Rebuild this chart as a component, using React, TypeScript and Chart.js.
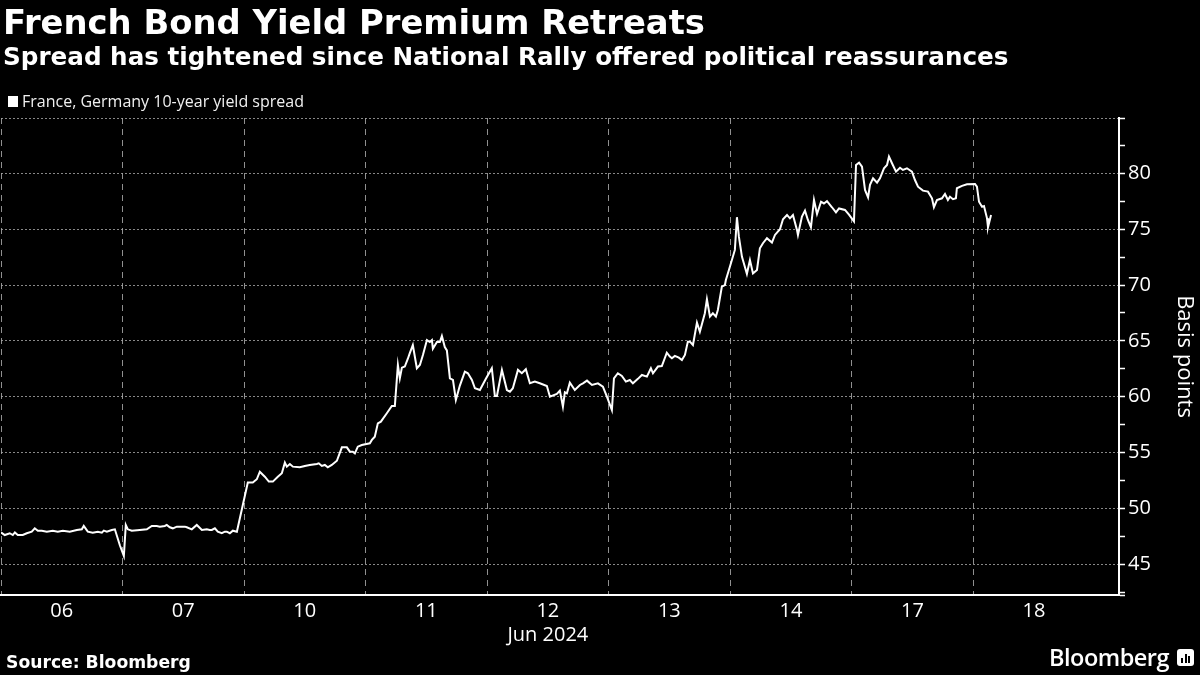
import React, { useEffect, useRef } from "react";
import { Chart, registerables } from "chart.js";

Chart.register(...registerables);

// ---------- data ----------
const chartTitle = "French Bond Yield Premium Retreats";
const chartSubtitle = "Spread has tightened since National Rally offered political reassurances";
const seriesName = "France, Germany 10-year yield spread";
const yAxisTitle = "Basis points";
const sourceText = "Source: Bloomberg";
const monthLabel = "Jun 2024";
const dayLabels = ["06", "07", "10", "11", "12", "13", "14", "17", "18"];
const monthLabelDay = "12";
const yMajorStep = 5;
const yMinorStep = 2.5;
const yMin = 42.25;
const yMax = 84.95;
const xMax = 9.2;

// trading-session time (in trading days from the open of 06 Jun)
const sessionTime = [
  0.0, 0.031, 0.072, 0.097, 0.114, 0.138, 0.179, 0.212, 0.253, 0.278, 0.303, 0.336, 0.377, 0.426, 0.467, 0.509,
  0.566, 0.624, 0.665, 0.681, 0.714, 0.755, 0.797, 0.83, 0.846, 0.871, 0.912, 0.937, 0.978,
  1.011, 1.027, 1.044, 1.076, 1.142, 1.2, 1.241, 1.282, 1.307, 1.348, 1.364, 1.389, 1.414, 1.447, 1.472, 1.513,
  1.529, 1.57, 1.611, 1.653, 1.694, 1.718, 1.735, 1.76, 1.784, 1.817, 1.842, 1.858, 1.883, 1.908, 1.941,
  2.031, 2.072, 2.105, 2.13, 2.171, 2.204, 2.237, 2.278, 2.311, 2.336, 2.352, 2.377, 2.402, 2.459, 2.5, 2.541,
  2.599, 2.615, 2.64, 2.665, 2.689, 2.722, 2.764, 2.805, 2.846, 2.871, 2.895, 2.912, 2.936, 2.969,
  3.035, 3.052, 3.076, 3.101, 3.126, 3.175, 3.216, 3.241, 3.266, 3.282, 3.299, 3.323, 3.348, 3.364, 3.389, 3.422,
  3.447, 3.472, 3.505, 3.529, 3.546, 3.554, 3.587, 3.611, 3.628, 3.652, 3.669, 3.694, 3.719, 3.743, 3.776, 3.817,
  3.842, 3.875, 3.9, 3.941, 3.99,
  4.039, 4.064, 4.081, 4.122, 4.163, 4.188, 4.212, 4.254, 4.286, 4.319, 4.352, 4.393, 4.434, 4.492, 4.517, 4.574,
  4.599, 4.624, 4.64, 4.657, 4.681, 4.722, 4.764, 4.789, 4.822, 4.863, 4.912, 4.953, 4.986,
  5.027, 5.044, 5.076, 5.109, 5.142, 5.175, 5.2, 5.241, 5.274, 5.315, 5.348, 5.365, 5.406, 5.438, 5.479, 5.504,
  5.521, 5.545, 5.578, 5.603, 5.628, 5.652, 5.669, 5.694, 5.727, 5.751, 5.792, 5.809, 5.834, 5.858, 5.883, 5.899,
  5.932, 5.957, 5.965, 5.998,
  6.039, 6.056, 6.072, 6.097, 6.105, 6.138, 6.163, 6.188, 6.221, 6.245, 6.27, 6.303, 6.344, 6.369, 6.41, 6.435,
  6.468, 6.492, 6.517, 6.55, 6.558, 6.591, 6.616, 6.64, 6.665, 6.69, 6.715, 6.748, 6.772, 6.797, 6.838, 6.871,
  6.896, 6.945, 6.978,
  7.019, 7.036, 7.061, 7.085, 7.11, 7.135, 7.151, 7.176, 7.209, 7.233, 7.266, 7.291, 7.307, 7.332, 7.365, 7.398,
  7.422, 7.455, 7.496, 7.521, 7.546, 7.587, 7.628, 7.661, 7.677, 7.702, 7.743, 7.768, 7.792, 7.809, 7.834, 7.858,
  7.866, 7.908, 7.949,
  8.015, 8.031, 8.048, 8.073, 8.089, 8.114, 8.122, 8.147,
];

const spreadBp = [
  47.85, 47.62, 47.78, 47.62, 47.85, 47.62, 47.62, 47.78, 47.92, 48.22, 48.0, 48.0, 47.92, 48.0, 47.92, 48.0,
  47.92, 48.07, 48.13, 48.43, 47.92, 47.83, 47.92, 47.83, 48.01, 47.92, 48.07, 48.13, 46.7,
  45.74, 48.52, 48.13, 48.0, 48.07, 48.13, 48.43, 48.43, 48.37, 48.43, 48.52, 48.31, 48.22, 48.37, 48.37, 48.37,
  48.31, 48.13, 48.52, 48.07, 48.13, 48.07, 48.07, 48.22, 47.92, 47.78, 47.92, 47.92, 47.78, 48.01, 47.92,
  52.31, 52.31, 52.61, 53.29, 52.84, 52.4, 52.4, 52.84, 53.15, 54.1, 53.74, 53.98, 53.74, 53.68, 53.8, 53.89,
  53.98, 54.04, 53.8, 53.89, 53.68, 53.89, 54.27, 55.47, 55.47, 55.08, 55.08, 54.93, 55.53, 55.68,
  55.83, 56.13, 56.42, 57.62, 57.77, 58.52, 59.17, 59.17, 62.84, 61.65, 62.6, 62.7, 63.4, 63.9, 64.63, 62.55,
  62.84, 63.73, 65.07, 64.9, 65.07, 64.3, 64.9, 64.9, 65.44, 64.45, 64.15, 61.65, 61.5, 59.71, 61.0, 62.24,
  62.1, 61.5, 60.76, 60.6, 61.6,
  62.55, 60.07, 60.07, 62.4, 60.6, 60.45, 60.76, 62.4, 62.1, 62.46, 61.2, 61.35, 61.2, 60.96, 60.0, 60.25,
  60.54, 59.11, 60.4, 60.3, 61.26, 60.6, 61.05, 61.2, 61.44, 61.05, 61.2, 60.9, 60.0,
  58.81, 61.65, 62.1, 61.86, 61.35, 61.5, 61.2, 61.6, 61.95, 61.8, 62.55, 62.1, 62.7, 62.75, 63.94, 63.6,
  63.44, 63.65, 63.5, 63.29, 63.74, 64.93, 64.93, 64.63, 66.63, 65.82, 67.47, 68.72, 67.17, 67.47, 67.17, 67.77,
  69.85, 70.0, 70.45, 71.64,
  73.14, 76.07, 74.33, 72.54, 72.24, 71.0, 72.24, 71.04, 71.35, 73.29, 73.74, 74.19, 73.8, 74.48, 74.99, 75.89,
  76.27, 75.97, 76.27, 74.93, 74.48, 76.12, 76.66, 75.82, 75.17, 77.61, 76.36, 77.46, 77.3, 77.5, 76.96, 76.5,
  76.85, 76.72, 76.3,
  75.7, 80.75, 80.95, 80.6, 78.51, 77.85, 78.96, 79.55, 79.16, 79.55, 80.45, 80.75, 81.49, 80.9, 80.15, 80.5,
  80.3, 80.45, 80.15, 79.4, 78.8, 78.45, 78.36, 77.76, 76.96, 77.61, 77.76, 78.15, 77.61, 77.9, 77.68, 77.76,
  78.66, 78.87, 79.02,
  79.05, 78.8, 77.45, 77.0, 77.07, 75.97, 75.17, 76.27,
];

// ---------- component ----------
const AXIS_FONT = "'Open Sans', 'Noto Sans', sans-serif";
const BOLD_FONT = "'DejaVu Sans', 'Noto Sans', sans-serif";

function ChartCanvas() {
  const ref = useRef<HTMLCanvasElement | null>(null);
  useEffect(() => {
    if (!ref.current) return;
    const points = sessionTime.map((t, i) => ({ x: t, y: spreadBp[i] }));
    const xTickValues: number[] = [];
    for (let i = 0; i <= dayLabels.length; i++) {
      xTickValues.push(i);
      if (i < dayLabels.length) xTickValues.push(i + 0.5);
    }
    const yTickValues: number[] = [yMin];
    for (let v = Math.ceil(yMin / yMinorStep) * yMinorStep; v < yMax - 0.01; v += yMinorStep) yTickValues.push(v);
    yTickValues.push(yMax);

    const isMajor = (v: number) => Math.abs(v / yMajorStep - Math.round(v / yMajorStep)) < 1e-6;

    const chart = new Chart(ref.current, {
      type: "line",
      data: {
        datasets: [
          {
            label: seriesName,
            data: points,
            borderColor: "#ffffff",
            borderWidth: 2,
            pointRadius: 0,
            tension: 0,
            fill: false,
          },
        ],
      },
      options: {
        animation: false,
        responsive: false,
        maintainAspectRatio: false,
        layout: { padding: { top: 118, left: 1, right: 0, bottom: 0 } },
        plugins: { legend: { display: false }, tooltip: { enabled: false }, title: { display: false } },
        scales: {
          x: {
            type: "linear",
            min: 0,
            max: xMax,
            afterBuildTicks: (scale: any) => {
              scale.ticks = xTickValues.map((v) => ({ value: v }));
            },
            afterFit: (scale: any) => {
              scale.height = 80;
              scale.paddingLeft = 0;
              scale.paddingRight = 0;
            },
            ticks: {
              autoSkip: false,
              maxRotation: 0,
              minRotation: 0,
              padding: 4,
              color: "#ffffff",
              font: { family: AXIS_FONT, size: 20 },
              callback: (value: any) => {
                const v = Number(value);
                if (Math.abs(v - Math.floor(v) - 0.5) > 1e-6) return "";
                const label = dayLabels[Math.floor(v)];
                return label === monthLabelDay ? [label, monthLabel] : label;
              },
            },
            grid: {
              drawTicks: false,
              lineWidth: 1,
              color: (ctx: any) => {
                const v = ctx.tick ? ctx.tick.value : -1;
                return Number.isInteger(v) && v < dayLabels.length ? "rgba(180,180,180,0.8)" : "rgba(0,0,0,0)";
              },
            },
            border: { display: true, color: "#ffffff", width: 2, dash: [6, 5] },
          },
          y: {
            type: "linear",
            position: "right",
            min: yMin,
            max: yMax,
            afterBuildTicks: (scale: any) => {
              scale.ticks = yTickValues.map((v) => ({ value: v }));
            },
            afterFit: (scale: any) => {
              scale.width = 81;
              scale.paddingTop = 0;
              scale.paddingBottom = 0;
            },
            ticks: {
              autoSkip: false,
              padding: 3,
              color: "#ffffff",
              font: { family: AXIS_FONT, size: 20 },
              callback: (value: any) => (isMajor(Number(value)) ? String(Math.round(Number(value))) : ""),
            },
            grid: {
              drawTicks: true,
              tickLength: 6,
              tickColor: "#ffffff",
              tickWidth: 1.5,
              lineWidth: 1,
              color: (ctx: any) => {
                const v = ctx.tick ? ctx.tick.value : 0;
                return isMajor(v) || Math.abs(v - yMax) < 1e-6 ? "rgba(170,170,170,0.8)" : "rgba(0,0,0,0)";
              },
            },
            border: { display: true, color: "#ffffff", width: 2, dash: [2, 2] },
            title: {
              display: true,
              text: yAxisTitle,
              color: "#ffffff",
              font: { family: AXIS_FONT, size: 22 },
              padding: { top: 3, bottom: 0 },
            },
          },
        },
      },
    } as any);
    return () => chart.destroy();
  }, []);
  return (
    <canvas
      ref={ref}
      width={1200}
      height={675}
      style={{ position: "absolute", left: 0, top: 0, width: 1200, height: 675 }}
    />
  );
}

const textBase: React.CSSProperties = {
  position: "absolute",
  lineHeight: 1,
  whiteSpace: "nowrap",
  color: "#ffffff",
};

export default function App() {
  return (
    <div
      style={{
        position: "fixed",
        left: 0,
        top: 0,
        width: 1200,
        height: 675,
        background: "#000000",
        overflow: "hidden",
      }}
    >
      <ChartCanvas />
      <div style={{ ...textBase, left: 3, top: 6, fontFamily: BOLD_FONT, fontWeight: 700, fontSize: 33.8 }}>
        {chartTitle}
      </div>
      <div style={{ ...textBase, left: 3, top: 45, fontFamily: BOLD_FONT, fontWeight: 700, fontSize: 24.65 }}>
        {chartSubtitle}
      </div>
      <div style={{ position: "absolute", left: 8, top: 96, width: 10, height: 11, background: "#ffffff" }} />
      <div style={{ ...textBase, left: 22, top: 93, fontFamily: AXIS_FONT, fontSize: 16, color: "#f0f0f0" }}>
        {seriesName}
      </div>
      <div style={{ ...textBase, left: 6, top: 654, fontFamily: BOLD_FONT, fontWeight: 700, fontSize: 17.2 }}>
        {sourceText}
      </div>
      <div
        style={{
          ...textBase,
          left: 1049,
          top: 646,
          fontFamily: AXIS_FONT,
          fontWeight: 600,
          fontSize: 23.5,
          letterSpacing: -0.5,
        }}
      >
        Bloomberg
      </div>
      <div
        style={{
          position: "absolute",
          left: 1177,
          top: 649,
          width: 17,
          height: 17,
          borderRadius: 3,
          background: "#ffffff",
        }}
      >
        {[
          { l: 4, h: 5 },
          { l: 7.5, h: 9 },
          { l: 11, h: 7 },
        ].map((b, i) => (
          <div
            key={i}
            style={{ position: "absolute", left: b.l, bottom: 3, width: 2, height: b.h, background: "#000000" }}
          />
        ))}
      </div>
    </div>
  );
}
